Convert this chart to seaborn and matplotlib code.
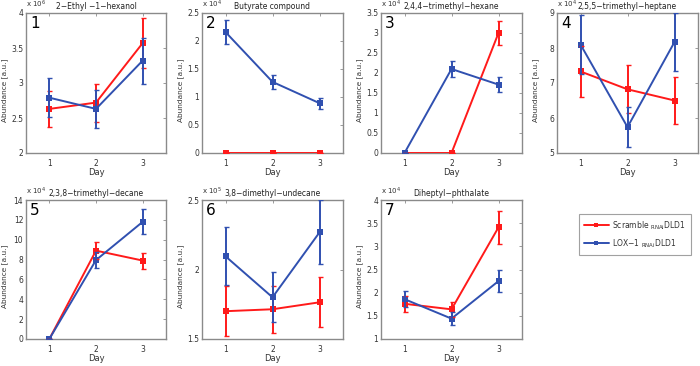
import numpy as np
import pandas as pd
import matplotlib
matplotlib.use("Agg")
import matplotlib.pyplot as plt
import seaborn as sns
from matplotlib.lines import Line2D

sns.set_theme(style="white")
plt.rcParams['font.family'] = ['DejaVu Sans']

days = [1, 2, 3]
titles = ["2\u2212Ethyl \u22121\u2212hexanol", "Butyrate compound", "2,4,4\u2212trimethyl\u2212hexane",
          "2,5,5\u2212trimethyl\u2212heptane", "2,3,8\u2212trimethyl\u2212decane",
          "3,8\u2212dimethyl\u2212undecane", "Diheptyl\u2212phthalate"]
exponents = [6, 4, 4, 4, 4, 5, 4]
ylims = [(2, 4), (0, 2.5), (0, 3.5), (5, 9), (0, 14), (1.5, 2.5), (1, 4)]
yticks = [[2, 2.5, 3, 3.5, 4], [0, 0.5, 1, 1.5, 2, 2.5], [0, 0.5, 1, 1.5, 2, 2.5, 3, 3.5],
          [5, 6, 7, 8, 9], [0, 2, 4, 6, 8, 10, 12, 14], [1.5, 2, 2.5], [1, 1.5, 2, 2.5, 3, 3.5, 4]]

scramble_mean = [[2.63, 2.72, 3.57], [0, 0, 0], [0, 0, 3.0], [7.33, 6.82, 6.50],
                 [0, 8.9, 7.9], [1.70, 1.714, 1.764], [1.76, 1.64, 3.41]]
scramble_err = [[0.26, 0.27, 0.36], [0, 0, 0], [0, 0, 0.31], [0.74, 0.69, 0.66],
                [0, 0.83, 0.8], [0.18, 0.17, 0.18], [0.17, 0.16, 0.35]]
lox_mean = [[2.79, 2.63, 3.32], [2.16, 1.27, 0.89], [0, 2.1, 1.71], [8.1, 5.74, 8.17],
            [0, 7.95, 11.8], [2.095, 1.80, 2.267], [1.86, 1.44, 2.25]]
lox_err = [[0.28, 0.27, 0.33], [0.22, 0.13, 0.1], [0, 0.21, 0.19], [0.83, 0.58, 0.82],
           [0, 0.8, 1.25], [0.21, 0.18, 0.23], [0.18, 0.14, 0.23]]

groups = ["Scramble", "LOX-1"]
colors = {"Scramble": "#ff1a1a", "LOX-1": "#3050b0"}
legend_labels = ["Scramble $_{\\mathrm{RNAi}}$DLD1", "LOX\u22121 $_{\\mathrm{RNAi}}$DLD1"]

W, H = 700, 366
fig = plt.figure(figsize=(7.0, 3.66), dpi=100)

cols = [(26, 166), (202, 343), (381, 522), (557, 698)]
rows = [(13, 153), (200, 339)]
positions = []
for r in range(2):
    for c in range(4):
        positions.append((cols[c], rows[r]))

grey = "#8a8a8a"
txt = "#333333"
for i in range(7):
    (x0, x1), (y0, y1) = positions[i]
    ax = fig.add_axes([x0 / W, 1 - y1 / H, (x1 - x0) / W, (y1 - y0) / H])
    df = pd.DataFrame({
        "Day": days * 2,
        "Abundance": scramble_mean[i] + lox_mean[i],
        "Group": ["Scramble"] * 3 + ["LOX-1"] * 3,
    })
    sns.lineplot(data=df, x="Day", y="Abundance", hue="Group", hue_order=groups,
                 palette=colors, marker="s", markersize=4, markeredgewidth=0,
                 linewidth=1.4, errorbar=None, legend=False, ax=ax, zorder=3)
    for g, m, e in [("Scramble", scramble_mean[i], scramble_err[i]),
                    ("LOX-1", lox_mean[i], lox_err[i])]:
        ax.errorbar(days, m, yerr=e, fmt="none", ecolor=colors[g], elinewidth=1.4,
                    capsize=1.8, capthick=1, zorder=3 if g == "Scramble" else 4)
    ax.set_xlim(0.5, 3.5)
    ax.set_ylim(*ylims[i])
    ax.set_xticks(days)
    ax.set_yticks(yticks[i])
    ax.set_yticklabels([("%g" % t) for t in yticks[i]])
    ax.tick_params(direction="in", length=2, width=0.6, colors=grey, labelsize=5.5,
                   labelcolor=txt, top=True, right=True, pad=2)
    ax.tick_params(axis="x", pad=4)
    for s in ax.spines.values():
        s.set_color(grey)
        s.set_linewidth(1.0)
    ax.set_xlabel("Day", fontsize=6, color=txt, labelpad=0)
    ax.set_ylabel("Abundance [a.u.]", fontsize=5.3, color=txt)
    ax.yaxis.set_label_coords(-18.0 / (x1 - x0), 0.45)
    ax.set_title(titles[i], fontsize=5.5, color="#222222", pad=3)
    ax.text(0.0, 1.02, "x 10$^{%d}$" % exponents[i], transform=ax.transAxes,
            fontsize=5, color=txt, ha="left", va="bottom")
    ax.text(0.03, 0.975, str(i + 1), transform=ax.transAxes, fontsize=11,
            color="black", ha="left", va="top")

handles = [Line2D([0], [0], color=colors[g], lw=1.4, marker="s", markersize=2.5,
                  markeredgewidth=0) for g in groups]
leg = fig.legend(handles, legend_labels, loc="upper left",
                 bbox_to_anchor=(575 / W, 1 - 210 / H), fontsize=5.5, frameon=True,
                 fancybox=False, edgecolor=grey, handlelength=3.2, borderpad=0.7,
                 labelspacing=0.7, handletextpad=0.4)
leg.get_frame().set_linewidth(0.8)
for t in leg.get_texts():
    t.set_color(txt)

fig.savefig("out.png", dpi=100)
